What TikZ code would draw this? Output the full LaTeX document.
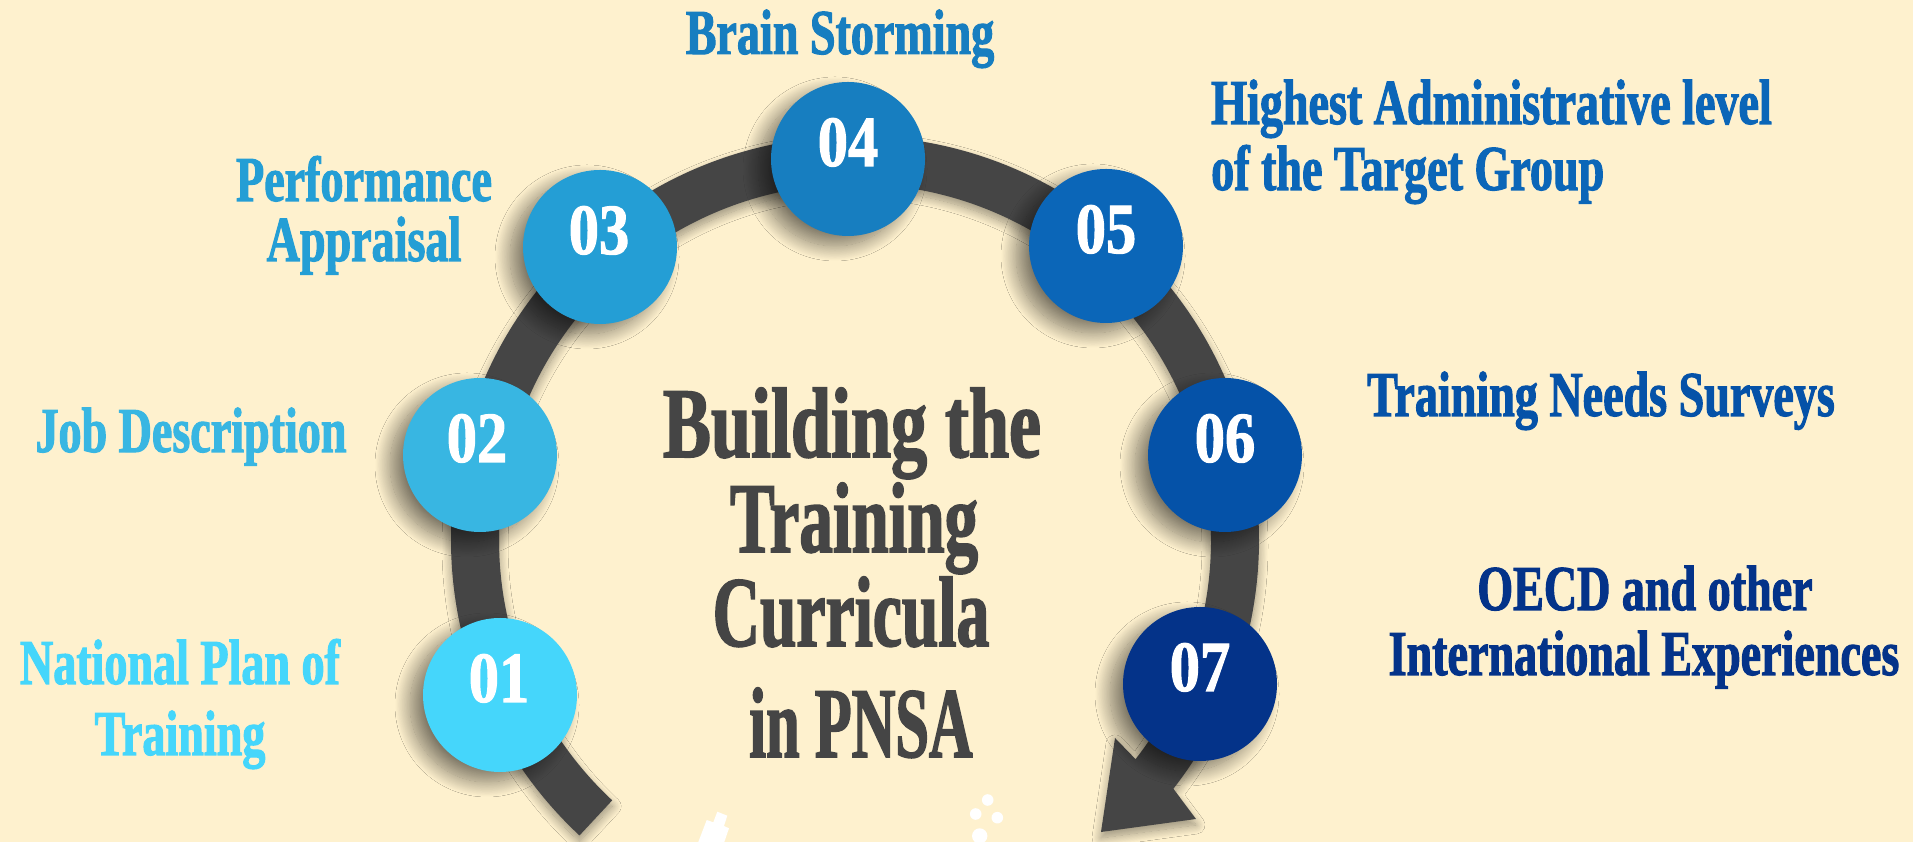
\documentclass[tikz,border=0pt]{standalone}
\usepackage{fontspec}
\newfontfamily\lab{Liberation Serif}[UprightFont={* Bold},FakeStretch=0.72,FakeBold=1.6]
\newfontfamily\numf{Liberation Serif}[UprightFont={* Bold},FakeStretch=0.84,FakeBold=1.5]
\usetikzlibrary{calc,shadows.blur}
\definecolor{bg}{HTML}{FEF1CE}
\definecolor{ringc}{HTML}{454545}
\definecolor{cA}{HTML}{45D6FB}
\definecolor{cB}{HTML}{38B6E2}
\definecolor{cC}{HTML}{249ED5}
\definecolor{cD}{HTML}{177EC0}
\definecolor{cE}{HTML}{0B66B8}
\definecolor{cF}{HTML}{0552A8}
\definecolor{cG}{HTML}{043389}
\begin{document}
\begin{tikzpicture}[x=1pt,y=1pt,
  bubble/.style={circle, minimum size=154pt, inner sep=0pt, fill=#1,
    blur shadow={shadow xshift=-13pt, shadow yshift=-10pt, shadow blur radius=15pt, shadow blur steps=24, shadow opacity=50}},
  numtxt/.style={text=white, font=\numf\fontsize{72}{72}\selectfont, anchor=base, inner sep=0pt},
  lbl/.style={text=#1, font=\lab\fontsize{64}{66}\selectfont, inner sep=0pt},
  ctr/.style={text=ringc, font=\lab\fontsize{100}{100}\selectfont, anchor=base, inner sep=0pt},
  ringstyle/.style={fill=ringc, blur shadow={shadow xshift=0pt, shadow yshift=-6pt, shadow blur radius=9pt, shadow blur steps=16, shadow opacity=40}}
]
\useasboundingbox (0,0) rectangle (1913,842);
\fill[bg] (0,0) rectangle (1913,842);

% ring with arrow
\coordinate (C) at (855,302);
\coordinate (bA) at (1196,23);
\coordinate (tip) at (1101,10);
\coordinate (bB) at (1115,104);
\path[ringstyle] ($(C)+(227:404pt)$) arc[start angle=227, end angle=-38, radius=404pt]
  -- (bA) -- (tip) -- (bB) -- ($(C)+(-38:356pt)$)
  arc[start angle=-38, end angle=227, radius=356pt] -- cycle;

% bubbles
\node[bubble=cA] (n1) at (500,147) {};
\node[bubble=cB] (n2) at (480,387) {};
\node[bubble=cC] (n3) at (600,595) {};
\node[bubble=cD] (n4) at (848,683) {};
\node[bubble=cE] (n5) at (1106,596) {};
\node[bubble=cF] (n6) at (1225,387) {};
\node[bubble=cG] (n7) at (1200,158) {};

\node[numtxt] (d1) at ($(n1.center)+(-1,-7)$) {01};
\node[numtxt] (d2) at ($(n2.center)+(-3,-7)$) {02};
\node[numtxt] (d3) at ($(n3.center)+(-1,-7)$) {03};
\node[numtxt] (d4) at ($(n4.center)+(0,-7)$) {04};
\node[numtxt] (d5) at ($(n5.center)+(0,-7)$) {05};
\node[numtxt] (d6) at ($(n6.center)+(0,-7)$) {06};
\node[numtxt] (d7) at ($(n7.center)+(0,-7)$) {07};

% labels
\node[lbl=cD, anchor=base] (l4) at (840,788) {Brain Storming};
\node[lbl=cE, anchor=base west] (l5a) at (1211,718) {Highest Administrative level};
\node[lbl=cE, anchor=base west] (l5b) at (1211,652) {of the Target Group};
\node[lbl=cC, anchor=base] (l3a) at (364,641) {Performance};
\node[lbl=cC, anchor=base] (l3b) at (364,581) {Appraisal};
\node[lbl=cB, anchor=base] (l2) at (191,390) {Job Description};
\node[lbl=cF, anchor=base] (l6) at (1601,426) {Training Needs Surveys};
\node[lbl=cA, anchor=base] (l1a) at (180,158) {National Plan of};
\node[lbl=cA, anchor=base] (l1b) at (180,87) {Training};
\node[lbl=cG, anchor=base] (l7a) at (1645,232) {OECD and other};
\node[lbl=cG, anchor=base] (l7b) at (1644,167) {International Experiences};

% centre title
\node[ctr] (c1) at (852,385) {Building the};
\node[ctr] (c2) at (854,290) {\scalebox{0.93}[1]{Training}};
\node[ctr] (c3) at (851,196) {\scalebox{0.91}[1]{Curricula}};
\node[ctr] (c4) at (861,85) {\scalebox{0.84}[1]{in PNSA}};

% white decorations at the bottom edge
\fill[white] (717.3,30.3) -- (727.3,26.3) -- (724,16) -- (729,13.7) -- (724.3,0)
  -- (698.3,0) -- (706.7,22) -- (713.3,19.7) -- cycle;
\fill[white] (987.7,42) circle[radius=5.8pt];
\fill[white] (975.7,28) circle[radius=5.8pt];
\fill[white] (997.3,24.3) circle[radius=5.8pt];
\fill[white] (979.7,6) circle[radius=7.7pt];
\end{tikzpicture}
\end{document}
